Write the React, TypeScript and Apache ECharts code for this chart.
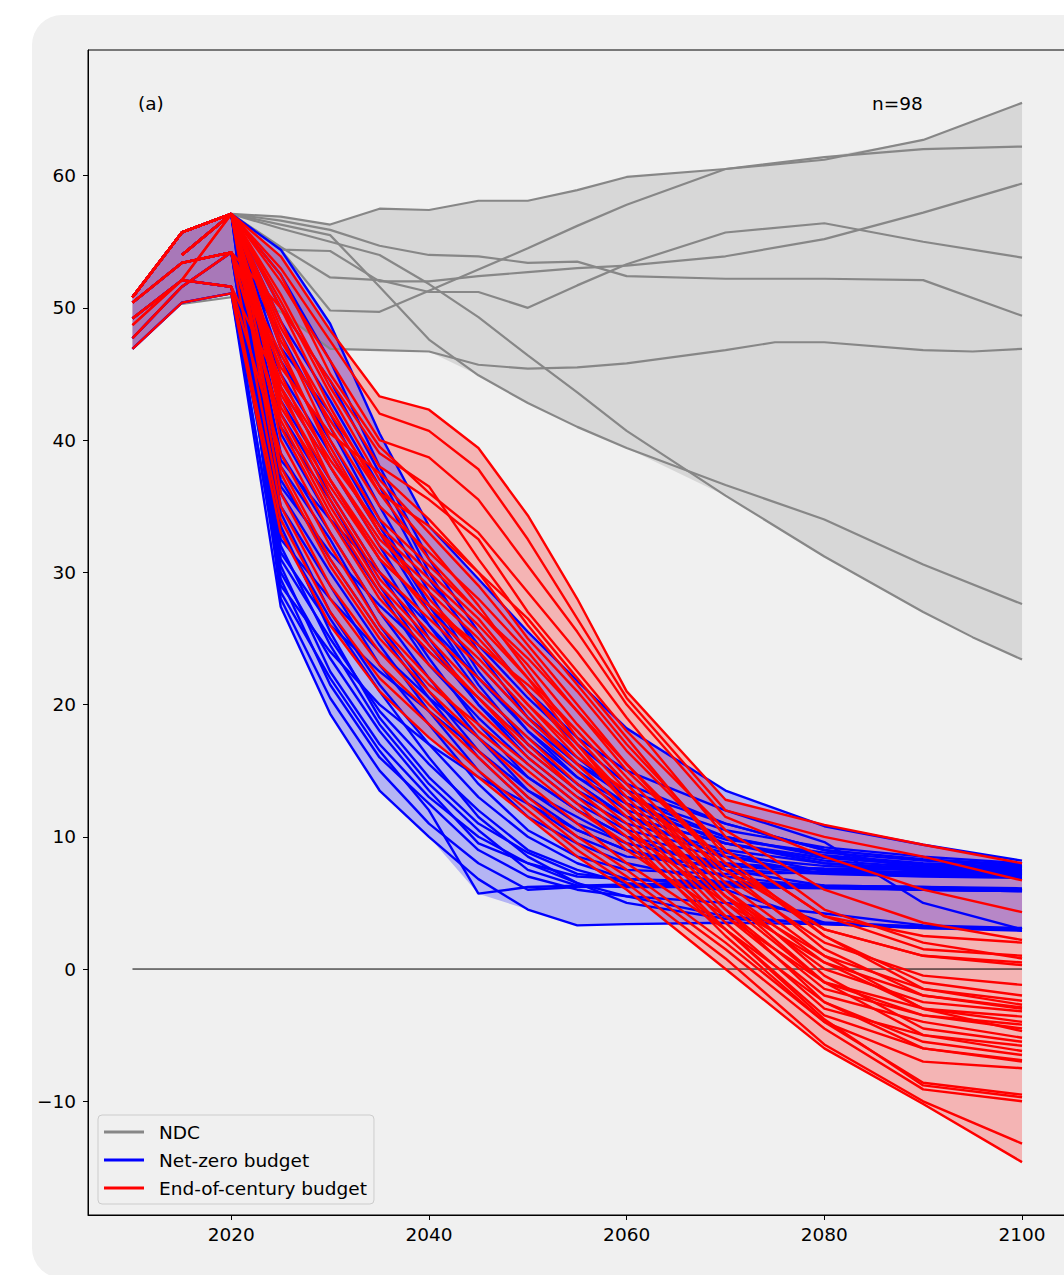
import React, { useEffect, useRef } from "react";
import * as echarts from "echarts";

// ---------------- DATA ----------------
const years = [2010, 2015, 2020, 2025, 2030, 2035, 2040, 2045, 2050, 2055, 2060, 2070, 2080, 2090, 2100];

const ndcYears = [2010, 2015, 2020, 2025, 2030, 2035, 2040, 2045, 2050, 2055, 2060, 2070, 2075, 2080, 2090, 2095, 2100];
const ndcPaths: (number | null)[][] = [
  [null, null, 57.1, 56.9, 56.3, 57.5, 57.4, 58.1, 58.1, 58.9, 59.9, 60.5, null, 61.4, 62.0, null, 62.2],
  [null, null, 57.1, 54.4, 49.8, 49.7, 51.3, 52.9, 54.5, 56.2, 57.8, 60.5, null, 61.2, 62.7, null, 65.5],
  [null, null, 57.1, 54.4, 54.3, 52.0, 52.0, 52.4, 52.7, 53.0, 53.2, 53.9, null, 55.2, 57.2, 58.3, 59.4],
  [null, null, 57.1, 54.6, 52.3, 52.1, 51.2, 51.2, 50.0, 51.7, 53.3, 55.7, null, 56.4, 55.0, null, 53.8],
  [null, null, 57.1, 56.6, 55.9, 54.7, 54.0, 53.9, 53.4, 53.5, 52.4, 52.2, null, 52.2, 52.1, null, 49.4],
  [null, null, 57.1, 56.3, 55.5, 51.6, 47.6, 44.9, 42.8, 41.0, 39.4, 36.6, null, 34.0, 30.6, null, 27.6],
  [null, null, 57.1, 56.0, 55.0, 54.0, 51.8, 49.3, 46.4, 43.6, 40.7, 35.8, null, 31.2, 27.0, 25.1, 23.4],
  [null, 50.3, 50.8, 49.7, 46.9, 46.8, 46.7, 45.7, 45.4, 45.5, 45.8, 46.8, 47.4, 47.4, 46.8, 46.7, 46.9],
];

const ndcBandYears = [2010, 2015, 2020, 2025, 2030, 2035, 2040, 2045, 2050, 2055, 2060, 2070, 2080, 2090, 2100];
const ndcUpper = [50.8, 55.7, 57.1, 56.9, 56.3, 57.5, 57.4, 58.1, 58.1, 58.9, 59.9, 60.5, 61.4, 62.7, 65.5];
const ndcLower = [46.9, 50.3, 50.8, 49.7, 46.9, 46.8, 46.7, 44.9, 42.8, 41.0, 39.4, 35.8, 31.2, 27.0, 23.4];

const netZeroPaths: (number | null)[][] = [
  [50.8, 55.7, 57.1, 54.4, 48.8, 40.5, 33.5, 29.5, 25.5, 21.8, 18.2, 13.5, 10.8, 9.4, 8.2],
  [46.9, 50.4, 51.1, 27.4, 19.3, 13.5, 10.0, 6.8, 4.5, 3.3, 3.4, 3.5, 3.4, 3.1, 2.9],
  [50.8, 55.7, 57.1, 28.5, 22.0, 16.5, 12.0, 5.7, 6.2, 6.3, 6.4, 6.5, 6.3, 6.2, 6.0],
  [50.4, 53.4, 54.2, 30.0, 23.5, 18.0, 13.5, 9.5, 8.0, 7.0, 6.8, 6.6, 6.3, 6.2, 6.1],
  [50.8, 55.7, 57.1, 31.0, 25.0, 19.5, 15.5, 12.0, 9.0, 7.5, 6.5, 6.0, 3.5, 3.2, 3.0],
  [null, 54.0, 57.1, 33.0, 26.5, 21.0, 16.0, 11.5, 8.5, 6.5, 5.0, 3.8, 3.5, 3.2, 3.0],
  [50.8, 55.7, 57.1, 35.0, 29.0, 23.0, 18.5, 14.0, 10.5, 8.5, 7.5, 7.2, 7.3, 7.3, 7.3],
  [50.4, 53.4, 54.2, 37.0, 31.0, 25.5, 20.5, 16.0, 12.5, 10.0, 8.5, 7.8, 7.6, 7.5, 7.4],
  [50.8, 55.7, 57.1, 39.0, 33.0, 27.0, 22.0, 17.5, 13.5, 11.0, 9.5, 8.0, 7.5, 7.3, 7.2],
  [null, 54.0, 57.1, 41.0, 35.5, 29.0, 23.5, 18.5, 14.5, 12.0, 10.0, 8.5, 7.8, 7.5, 7.3],
  [50.8, 55.7, 57.1, 43.0, 37.0, 31.0, 25.0, 20.0, 16.0, 13.0, 11.0, 9.0, 8.0, 7.6, 7.4],
  [50.4, 53.4, 54.2, 45.0, 39.0, 33.0, 27.0, 21.5, 17.0, 14.0, 11.5, 9.5, 8.4, 7.9, 7.6],
  [50.8, 55.7, 57.1, 47.0, 42.0, 35.0, 28.5, 22.5, 18.0, 14.5, 12.0, 9.8, 8.8, 8.2, 7.8],
  [null, 54.0, 57.1, 50.0, 44.5, 37.5, 30.0, 24.0, 19.0, 15.5, 13.0, 10.5, 9.2, 8.5, 8.0],
  [50.8, 55.7, 57.1, 52.5, 46.0, 38.0, 31.0, 25.5, 21.0, 17.5, 15.0, 12.0, 9.6, 5.0, 3.0],
  [49.2, 52.1, 51.6, 32.0, 24.5, 18.5, 14.0, 10.5, 7.5, 6.3, 6.2, 6.2, 6.1, 6.0, 5.9],
  [46.9, 50.4, 51.1, 29.5, 21.5, 16.0, 12.5, 9.0, 7.0, 6.0, 5.5, 5.0, 4.2, 3.3, 3.1],
  [50.4, 53.4, 54.2, 34.5, 27.0, 21.5, 17.0, 13.0, 10.0, 8.0, 6.8, 6.3, 6.2, 6.1, 6.0],
  [49.2, 52.1, 51.6, 36.0, 30.0, 24.5, 19.5, 15.0, 11.5, 9.5, 8.0, 6.5, 6.2, 6.1, 6.0],
  [47.7, 51.6, 54.2, 38.0, 32.5, 26.0, 21.0, 16.5, 13.0, 10.5, 9.0, 7.5, 7.2, 7.1, 7.0],
  [50.8, 55.7, 57.1, 40.5, 34.0, 28.5, 23.0, 19.0, 15.5, 12.5, 10.5, 8.8, 7.4, 7.2, 7.1],
  [null, 54.0, 57.1, 44.0, 38.0, 32.0, 26.0, 21.0, 17.5, 14.5, 12.5, 10.0, 8.5, 7.8, 7.5],
  [50.4, 53.4, 54.2, 48.0, 41.0, 34.0, 27.5, 22.0, 18.5, 15.5, 13.5, 11.0, 9.0, 8.3, 7.9],
  [47.7, 51.6, 54.2, 30.5, 22.5, 17.0, 13.0, 10.0, 8.0, 6.5, 5.5, 4.0, 3.4, 3.1, 3.0],
  [50.8, 55.7, 57.1, 33.5, 25.5, 19.0, 14.5, 11.0, 8.8, 7.2, 6.8, 6.5, 6.2, 6.0, 5.9],
  [49.2, 52.1, 51.6, 42.0, 36.0, 30.0, 24.5, 20.0, 16.5, 13.5, 11.5, 9.5, 8.2, 7.7, 7.5],
  [50.8, 55.7, 57.1, 46.0, 40.0, 33.5, 27.5, 23.0, 19.0, 16.0, 13.0, 10.0, 8.6, 8.0, 7.7],
  [null, 54.0, 57.1, 28.0, 20.5, 15.0, 11.0, 8.0, 6.0, 6.2, 6.3, 6.3, 6.2, 6.1, 6.0],
  [50.8, 55.7, 57.1, 38.5, 34.0, 30.0, 26.0, 22.0, 18.0, 15.0, 12.5, 9.5, 8.0, 7.4, 7.3],
  [50.4, 53.4, 54.2, 36.5, 31.5, 27.5, 24.0, 20.5, 17.0, 14.0, 11.5, 8.5, 7.2, 7.0, 6.9],
  [null, 54.0, 57.1, 32.5, 28.0, 24.0, 20.5, 17.5, 14.5, 12.0, 10.0, 7.5, 6.3, 6.1, 6.0],
  [49.2, 52.1, 51.6, 29.0, 24.0, 20.0, 17.0, 14.5, 12.5, 10.5, 9.0, 7.0, 6.2, 6.0, 5.9],
  [50.8, 55.7, 57.1, 49.0, 43.0, 36.5, 29.5, 24.5, 20.5, 17.0, 14.0, 11.0, 9.0, 7.5, 7.2],
  [47.7, 51.6, 54.2, 31.5, 26.0, 22.5, 19.5, 16.5, 13.5, 11.5, 9.5, 7.8, 7.3, 7.2, 7.1],
];

const endCenturyPaths: (number | null)[][] = [
  [50.8, 55.7, 57.1, 53.9, 48.3, 43.3, 42.3, 39.4, 34.3, 28.0, 21.0, 12.8, 10.9, 9.4, 8.0],
  [50.8, 55.7, 57.1, 53.0, 47.5, 42.0, 40.7, 37.8, 32.5, 26.5, 20.5, 12.0, 10.0, 8.5, 6.7],
  [null, 54.0, 57.1, 52.0, 46.0, 40.0, 38.7, 35.5, 30.5, 25.5, 20.0, 11.5, 8.5, 6.0, 4.3],
  [50.8, 55.7, 57.1, 51.0, 44.0, 38.0, 35.5, 32.5, 27.0, 22.5, 18.0, 10.5, 6.0, 3.5, 2.2],
  [50.4, 53.4, 54.2, 50.0, 42.5, 36.0, 33.5, 30.0, 25.0, 21.0, 16.5, 9.0, 4.0, 1.5, 1.0],
  [50.8, 55.7, 57.1, 49.0, 41.0, 35.0, 31.5, 28.0, 24.0, 19.5, 15.0, 8.0, 3.0, 1.0, 0.3],
  [null, 54.0, 57.1, 48.0, 40.0, 34.0, 30.5, 27.0, 23.0, 18.5, 14.5, 7.0, 2.0, -0.5, -1.2],
  [50.8, 55.7, 57.1, 47.0, 39.0, 33.0, 29.5, 26.0, 22.0, 18.0, 14.0, 6.5, 1.0, -1.5, -2.7],
  [50.4, 53.4, 54.2, 46.0, 38.0, 32.0, 28.5, 25.0, 21.0, 17.0, 13.0, 5.5, 0.0, -2.5, -3.2],
  [50.8, 55.7, 57.1, 45.0, 37.0, 31.0, 27.5, 24.0, 20.0, 16.5, 12.5, 5.0, -1.0, -3.0, -4.0],
  [49.2, 52.1, 51.6, 44.0, 36.0, 30.0, 26.5, 23.0, 19.0, 15.5, 12.0, 4.5, -1.5, -3.5, -4.5],
  [50.8, 55.7, 57.1, 43.0, 35.5, 29.5, 25.5, 22.0, 18.5, 15.0, 11.5, 4.0, -2.0, -4.0, -5.2],
  [null, 54.0, 57.1, 42.0, 35.0, 29.0, 25.0, 21.0, 17.5, 14.0, 11.0, 3.5, -3.0, -5.0, -5.8],
  [50.4, 53.4, 54.2, 41.0, 34.0, 28.0, 24.0, 20.5, 17.0, 13.5, 10.5, 3.0, -3.5, -6.0, -6.9],
  [50.8, 55.7, 57.1, 40.0, 33.0, 27.0, 23.0, 19.5, 16.0, 13.0, 10.0, 2.5, -4.0, -7.0, -7.5],
  [46.9, 50.4, 51.1, 33.0, 26.0, 21.0, 17.5, 14.5, 11.5, 8.5, 6.0, 0.0, -6.0, -10.2, -14.6],
  [49.2, 52.1, 51.6, 34.0, 27.0, 22.0, 18.5, 15.0, 12.0, 9.0, 6.5, 0.8, -5.7, -10.0, -13.2],
  [50.8, 55.7, 57.1, 36.0, 29.0, 24.0, 20.0, 16.5, 13.0, 10.0, 7.5, 2.0, -4.0, -8.6, -9.5],
  [50.4, 53.4, 54.2, 35.0, 28.0, 23.0, 19.5, 16.0, 12.5, 9.5, 7.0, 1.5, -4.5, -9.1, -10.0],
  [null, 54.0, 57.1, 37.5, 30.5, 25.0, 21.0, 17.5, 14.0, 11.0, 8.0, 3.0, -3.8, -8.8, -9.7],
  [47.7, 51.6, 54.2, 45.5, 40.5, 37.5, 34.0, 30.0, 26.5, 22.0, 17.5, 8.5, 2.5, -1.0, -2.0],
  [50.8, 55.7, 57.1, 52.5, 45.0, 39.5, 36.0, 33.0, 28.5, 24.0, 19.0, 10.0, 4.5, 2.0, 0.8],
  [48.7, 52.1, 57.1, 50.5, 43.5, 37.0, 33.0, 29.0, 24.5, 20.0, 15.5, 7.5, 1.5, -2.0, -3.0],
  [50.8, 55.7, 57.1, 48.5, 42.0, 36.5, 32.0, 27.5, 22.5, 17.5, 13.5, 6.0, -0.5, -4.5, -5.5],
  [50.4, 53.4, 54.2, 44.5, 38.5, 33.5, 30.0, 26.5, 22.0, 17.0, 12.5, 5.5, -1.0, -5.0, -6.2],
  [null, 54.0, 57.1, 43.5, 37.0, 31.5, 27.0, 23.5, 19.5, 15.5, 12.0, 4.5, -2.5, -6.0, -7.0],
  [49.2, 52.1, 51.6, 39.0, 32.0, 26.0, 22.0, 18.0, 15.0, 12.0, 9.5, 3.0, -2.5, -5.5, -6.5],
  [50.8, 55.7, 57.1, 38.0, 31.0, 25.5, 21.5, 18.5, 15.5, 12.5, 9.0, 4.0, -1.0, -3.5, -4.2],
  [47.7, 51.6, 54.2, 41.5, 34.5, 28.5, 24.5, 20.5, 16.5, 13.5, 10.5, 5.0, 0.5, -2.0, -2.9],
  [50.8, 55.7, 57.1, 50.0, 44.5, 39.0, 36.5, 31.0, 26.0, 21.5, 17.0, 9.0, 4.0, 2.5, 2.0],
  [50.4, 53.4, 54.2, 46.5, 39.5, 33.0, 28.0, 24.0, 20.0, 16.0, 13.5, 7.5, 3.0, 1.0, 0.5],
  [null, 54.0, 57.1, 47.5, 41.5, 36.0, 31.0, 27.0, 23.5, 19.5, 15.5, 8.0, 2.5, -1.5, -2.4],
  [50.8, 55.7, 57.1, 42.5, 36.5, 31.0, 27.5, 24.5, 21.5, 18.0, 14.0, 6.0, 0.5, -3.0, -3.6],
  [48.7, 52.1, 57.1, 44.0, 38.0, 32.5, 29.0, 25.5, 21.0, 16.5, 12.5, 5.5, 1.0, -3.0, -4.7],
];

const zeroLineYears = [2010, 2100];
const xTicks = [2020, 2040, 2060, 2080, 2100];
const yTicks = [-10, 0, 10, 20, 30, 40, 50, 60];
const legendNames = ["NDC", "Net-zero budget", "End-of-century budget"];
const panelLabel = "(a)";
const countLabel = "n=98";

// ---------------- HELPERS ----------------
const FONT = "DejaVu Sans";

function toPairs(xs: number[], ys: (number | null)[]) {
  const out: number[][] = [];
  xs.forEach((x, i) => {
    const v = ys[i];
    if (v !== null && v !== undefined) out.push([x, v]);
  });
  return out;
}

function envelope(paths: (number | null)[][]) {
  const upper: number[][] = [];
  const lower: number[][] = [];
  years.forEach((yr, i) => {
    const vals = paths.map((p) => p[i]).filter((v) => v !== null && v !== undefined) as number[];
    if (vals.length) {
      upper.push([yr, Math.max(...vals)]);
      lower.push([yr, Math.min(...vals)]);
    }
  });
  return { upper, lower };
}

function bandSeries(id: string, upper: number[][], lower: number[][], fill: string) {
  return {
    type: "custom",
    id,
    name: id,
    silent: true,
    coordinateSystem: "cartesian2d",
    data: [upper[0]],
    renderItem: (_params: any, api: any) => {
      const pts = upper.map((p) => api.coord(p)).concat(lower.slice().reverse().map((p) => api.coord(p)));
      return { type: "polygon", shape: { points: pts }, style: { fill } };
    },
  };
}

function lineSeries(name: string, data: number[][], color: string, width = 2) {
  return {
    type: "line",
    name,
    data,
    symbol: "none",
    showSymbol: false,
    silent: true,
    lineStyle: { color, width },
    itemStyle: { color },
  };
}

export default function App() {
  const ref = useRef<HTMLDivElement>(null);

  useEffect(() => {
    if (!ref.current) return;
    const chart = echarts.init(ref.current, undefined, { renderer: "svg" });

    const nz = envelope(netZeroPaths);
    const ec = envelope(endCenturyPaths);

    const series: any[] = [];
    series.push(bandSeries("band-ndc", toPairs(ndcBandYears, ndcUpper), toPairs(ndcBandYears, ndcLower), "rgba(128,128,128,0.22)"));
    series.push(bandSeries("band-ec", ec.upper, ec.lower, "rgba(255,0,0,0.25)"));
    series.push(bandSeries("band-nz", nz.upper, nz.lower, "rgba(0,0,255,0.25)"));
    series.push(lineSeries("zero", zeroLineYears.map((y) => [y, 0]), "#000000", 1));
    ndcPaths.forEach((p) => series.push(lineSeries(legendNames[0], toPairs(ndcYears, p), "#878787", 2.2)));
    netZeroPaths.forEach((p) => series.push(lineSeries(legendNames[1], toPairs(years, p), "#0000ff", 2.4)));
    endCenturyPaths.forEach((p) => series.push(lineSeries(legendNames[2], toPairs(years, p), "#ff0000", 2.4)));

    const axisText = { color: "#000", fontSize: 18.5, fontFamily: FONT };

    chart.setOption({
      animation: false,
      backgroundColor: "transparent",
      grid: {
        left: 88,
        top: 50,
        width: 978.5,
        height: 1165,
        show: true,
        borderColor: "#000",
        borderWidth: 1,
        backgroundColor: "transparent",
      },
      xAxis: {
        type: "value",
        min: 2005.5,
        max: 2104.5,
        splitLine: { show: false },
        axisLine: { show: true, onZero: false, lineStyle: { color: "#000", width: 1 } },
        axisTick: { show: true, length: 5, customValues: xTicks, lineStyle: { color: "#000", width: 1 } },
        axisLabel: { ...axisText, margin: 10, customValues: xTicks, formatter: (v: number) => String(v) },
      },
      yAxis: {
        type: "value",
        min: -18.6,
        max: 69.5,
        splitLine: { show: false },
        axisLine: { show: true, onZero: false, lineStyle: { color: "#000", width: 1 } },
        axisTick: { show: true, length: 5, customValues: yTicks, lineStyle: { color: "#000", width: 1 } },
        axisLabel: {
          ...axisText,
          margin: 12,
          customValues: yTicks,
          formatter: (v: number) => String(v).replace("-", "\u2212"),
        },
      },
      legend: {
        data: legendNames.map((n) => ({ name: n, icon: "rect" })),
        orient: "vertical",
        left: 98,
        top: 1115,
        itemWidth: 40,
        itemHeight: 3,
        itemGap: 8,
        padding: [7, 7, 6, 6],
        borderColor: "#cccccc",
        borderWidth: 1,
        borderRadius: 4,
        backgroundColor: "rgba(240,240,240,0.8)",
        textStyle: { color: "#000", fontSize: 18.5, fontFamily: FONT, lineHeight: 20, padding: [0, 0, 0, 10] },
        selectedMode: false,
      },
      graphic: [
        {
          type: "text",
          x: 138,
          y: 103,
          silent: true,
          style: { text: panelLabel, fill: "#000", fontSize: 18.5, fontFamily: FONT, verticalAlign: "middle", align: "left" },
        },
        {
          type: "text",
          x: 872,
          y: 103,
          silent: true,
          style: { text: countLabel, fill: "#000", fontSize: 18.5, fontFamily: FONT, verticalAlign: "middle", align: "left" },
        },
      ],
      series,
    });

    return () => chart.dispose();
  }, []);

  return (
    <div style={{ position: "fixed", left: 0, top: 0, width: 1064, height: 1275, overflow: "hidden", background: "#ffffff" }}>
      <div
        style={{
          position: "absolute",
          left: 32,
          top: 15,
          width: 1100,
          height: 1263,
          borderRadius: 30,
          background: "#f0f0f0",
        }}
      />
      <div ref={ref} style={{ position: "absolute", left: 0, top: 0, width: 1100, height: 1275 }} />
    </div>
  );
}
